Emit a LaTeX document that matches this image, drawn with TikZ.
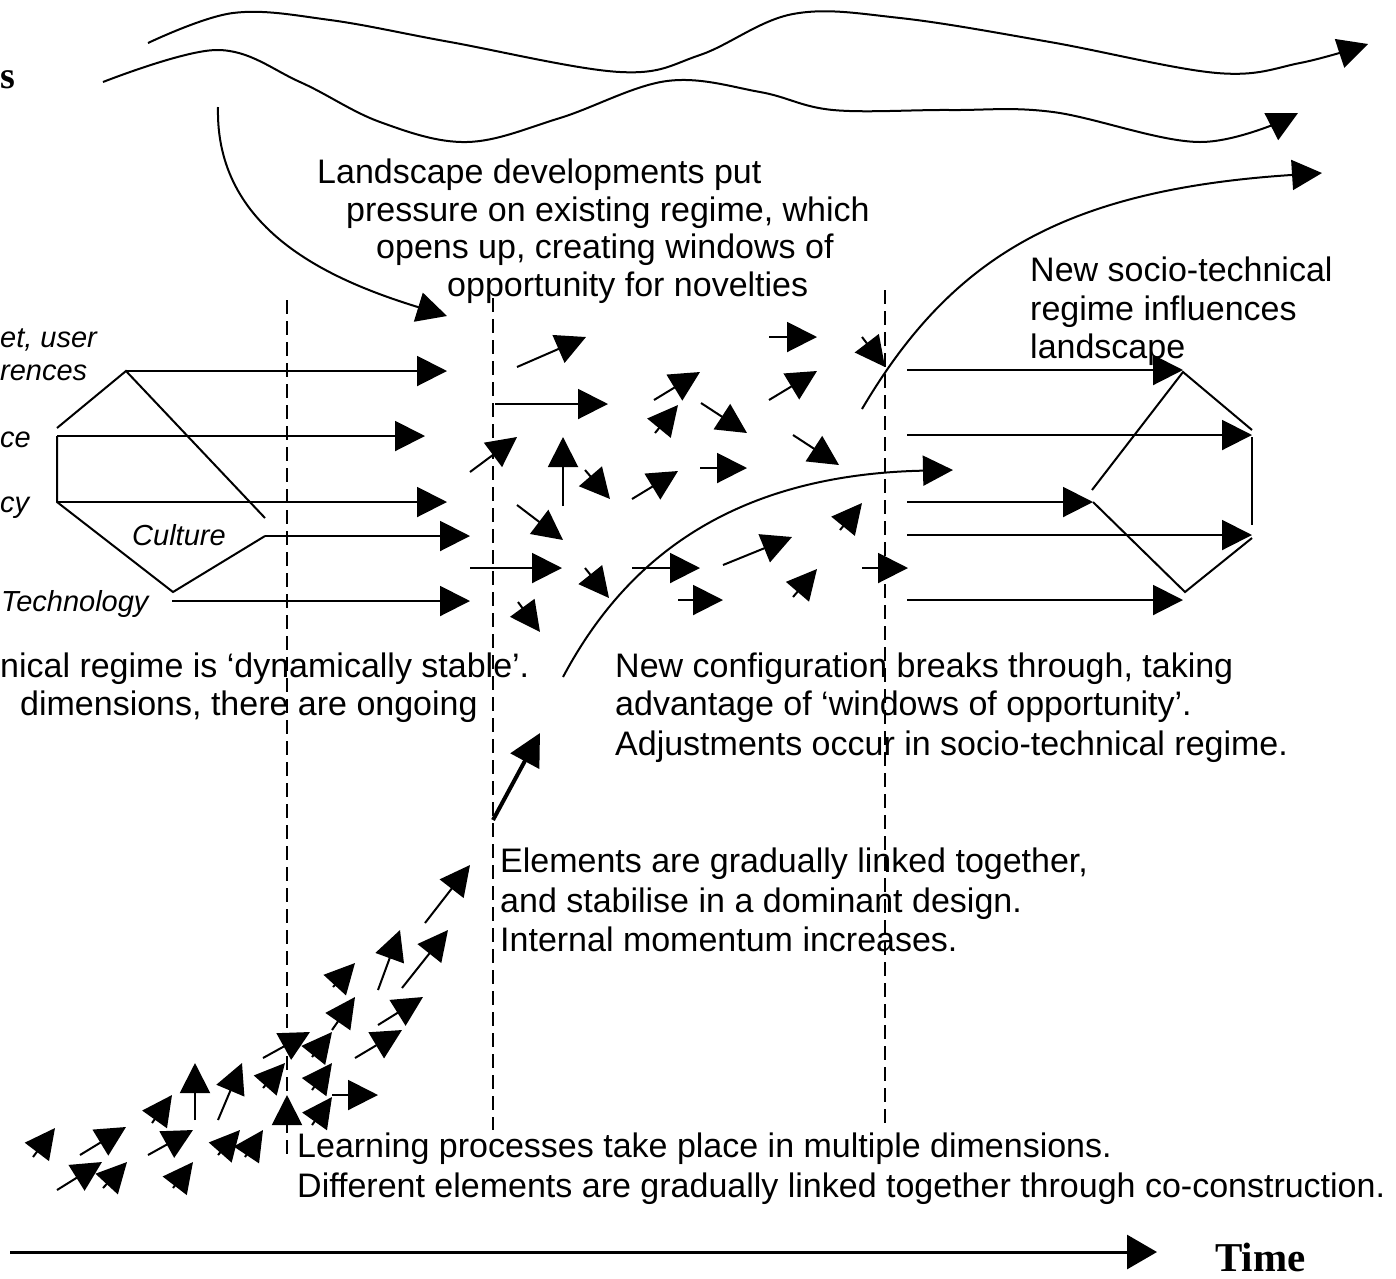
\documentclass[tikz,border=0pt]{standalone}
\usepackage{fontspec}
\setmainfont{Liberation Sans}
\newfontfamily\timesf{Liberation Serif}
\usetikzlibrary{arrows.meta}
\tikzset{
 ln/.style={line width=2pt},
 arr/.style={line width=2pt,-{Triangle[length=30pt,width=30pt]}},
 txt/.style={anchor=base west, inner sep=0pt, font=\fontsize{34}{40}\selectfont},
 itx/.style={anchor=base west, inner sep=0pt, font=\fontsize{29}{34}\selectfont\itshape},
 dsh/.style={line width=1.8pt, dash pattern=on 14pt off 7pt},
}
\begin{document}
\begin{tikzpicture}[x=1pt,y=-1pt]
\useasboundingbox[fill=white] (0,0) rectangle (1396,1278);
% landscape curves
\draw[arr] plot[smooth,tension=0.6] coordinates {(148,43) (233,13) (330,20) (450,42) (620,72) (700,55) (793,14) (900,18) (1050,42) (1217,73) (1300,63) (1368,44)};
\draw[arr] plot[smooth,tension=0.6] coordinates {(103,82) (217,50) (300,82) (380,122) (467,142) (560,118) (667,81) (760,92) (833,110) (950,110) (1053,112) (1200,142) (1298,113)};
\draw[arr] (218,107) .. controls (215,230) and (330,280) .. (447,316);
\draw[arr] (862,409) .. controls (950,260) and (1060,190) .. (1322,173);
\draw[arr] (563,677) .. controls (620,570) and (720,475) .. (953,470);
% dashed phase lines
\draw[dsh] (287,300) -- (287,1160);
\draw[dsh] (493,298) -- (493,1130);
\draw[dsh] (885,290) -- (885,1130);
% left regime
\draw[ln] (57,428) -- (126,371) -- (265,518);
\draw[ln] (57,436) -- (57,502) -- (173,592) -- (265,536);
\draw[arr] (126,371) -- (447,371);
\draw[arr] (57,436) -- (425,436);
\draw[arr] (57,502) -- (447,502);
\draw[arr] (265,536) -- (470,536);
\draw[arr] (172,601) -- (470,601);
% right regime
\draw[arr] (907,370) -- (1183,370);
\draw[arr] (907,435) -- (1252,435);
\draw[arr] (907,502) -- (1093,502);
\draw[arr] (907,535) -- (1252,535);
\draw[arr] (907,600) -- (1183,600);
\draw[ln] (1092,490) -- (1183,372) -- (1252,430);
\draw[ln] (1252,437) -- (1252,525);
\draw[ln] (1093,502) -- (1185,592) -- (1252,538);
% middle cluster
\foreach \a/\b/\c/\d in {517/367/586/337, 495/404/608/404, 470/472/517/437, 563/506/563/437,
 585/470/610/499, 517/505/563/540, 632/499/678/471, 654/400/700/372, 655/433/678/405,
 701/403/747/433, 700/468/747/468, 769/337/817/337, 769/400/817/371, 862/337/885/367,
 793/435/839/465, 470/568/562/568, 585/568/609/598, 632/568/700/568, 678/600/723/600,
 723/565/792/537, 840/530/862/503, 793/597/817/569, 862/568/908/568, 518/602/540/632}
 \draw[arr] (\a,\b) -- (\c,\d);
% niche cluster
\foreach \a/\b/\c/\d in {33/1157/55/1128, 80/1155/126/1127, 57/1190/102/1162, 103/1188/127/1162,
 152/1123/172/1095, 148/1155/193/1130, 195/1120/195/1063, 218/1120/242/1063, 173/1188/193/1162,
 218/1155/240/1130, 245/1157/263/1130, 263/1088/285/1063, 263/1058/310/1032, 287/1125/287/1095,
 312/1057/332/1032, 332/1030/355/997, 333/987/355/963, 312/1090/332/1063, 312/1125/332/1097,
 332/1095/378/1095, 355/1058/402/1030, 378/1025/423/997, 378/990/400/930, 402/988/448/930,
 425/923/470/865}
 \draw[arr] (\a,\b) -- (\c,\d);
\draw[line width=4pt,-{Triangle[length=32pt,width=32pt]}] (493,820) -- (540,733);
% time axis
\draw[line width=3pt,-{Triangle[length=30pt,width=34pt]}] (10,1252) -- (1157,1252);
\node[anchor=base west,inner sep=0pt,font=\fontsize{41}{46}\selectfont\timesf\bfseries] (time) at (1215,1271) {Time};
\node[anchor=base west,inner sep=0pt,font=\fontsize{38}{44}\selectfont\timesf\bfseries] (ls) at (0,88) {s};
% texts
\node[txt] (t1) at (317,183) {Landscape developments put};
\node[txt] (t2) at (346,221) {pressure on existing regime, which};
\node[txt] (t3) at (376,258) {opens up, creating windows of};
\node[txt] (t4) at (447,296) {opportunity for novelties};
\node[txt] (r1) at (1030,281) {New socio-technical};
\node[txt] (r2) at (1030,320) {regime influences};
\node[txt] (r3) at (1030,358) {landscape};
\node[txt] (s1) at (0,677) {nical regime is ‘dynamically stable’.};
\node[txt] (s2) at (20,715) {dimensions, there are ongoing};
\node[txt] (c1) at (615,677) {New configuration breaks through, taking};
\node[txt] (c2) at (615,715) {advantage of ‘windows of opportunity’.};
\node[txt] (c3) at (615,755) {Adjustments occur in socio-technical regime.};
\node[txt] (e1) at (500,872) {Elements are gradually linked together,};
\node[txt] (e2) at (500,912) {and stabilise in a dominant design.};
\node[txt] (e3) at (500,951) {Internal momentum increases.};
\node[txt] (l1) at (297,1157) {Learning processes take place in multiple dimensions.};
\node[txt] (l2) at (297,1197) {Different elements are gradually linked together through co-construction.};
\node[itx] (d1) at (0,347) {et, user};
\node[itx] (d2) at (0,380) {rences};
\node[itx] (d3) at (0,447) {ce};
\node[itx] (d4) at (0,512) {cy};
\node[itx] (d5) at (132,545) {Culture};
\node[itx] (d6) at (1,611) {Technology};
\end{tikzpicture}
\end{document}
